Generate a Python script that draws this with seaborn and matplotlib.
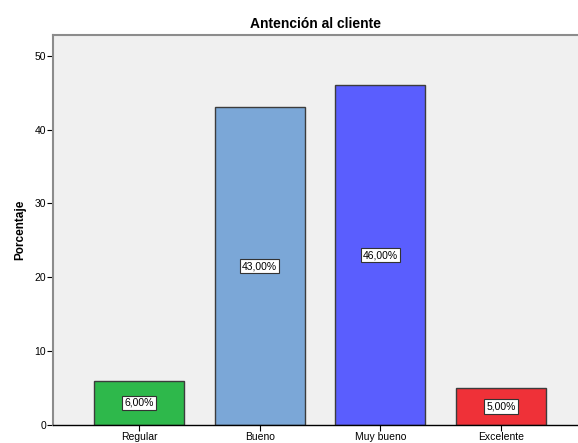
import matplotlib
matplotlib.use("Agg")
import matplotlib.pyplot as plt
import seaborn as sns
import pandas as pd

categorias = ["Regular", "Bueno", "Muy bueno", "Excelente"]
porcentajes = [6.0, 43.0, 46.0, 5.0]
colores = ["#2EB84B", "#7BA7D7", "#5A5EFE", "#EF3138"]
ticks_y = [0, 10, 20, 30, 40, 50]

df = pd.DataFrame({"categoria": categorias, "porcentaje": porcentajes})

sns.set_style("white")
plt.rcParams["font.family"] = ["Liberation Sans", "DejaVu Sans"]
plt.rcParams["text.color"] = "black"
plt.rcParams["axes.labelcolor"] = "black"
plt.rcParams["xtick.color"] = "black"
plt.rcParams["ytick.color"] = "black"

fig = plt.figure(figsize=(5.78, 4.43), dpi=100)
ax = fig.add_axes([53 / 578, 18 / 443, 1 - 53 / 578, (425 - 35) / 443])
ax.set_facecolor("#F0F0F0")

sns.barplot(data=df, x="categoria", y="porcentaje", hue="categoria",
            palette=colores, order=categorias, width=0.746, saturation=1,
            edgecolor="#3C3C3C", linewidth=1.0, legend=False, ax=ax)

for i, v in enumerate(porcentajes):
    ax.text(i, v / 2, f"{v:.2f}".replace(".", ",") + "%",
            ha="center", va="center", fontsize=7.5, color="black",
            bbox=dict(boxstyle="square,pad=0.2", facecolor="white",
                      edgecolor="#333333", linewidth=0.8))

ax.set_xlim(-0.713, 3.64)
ax.set_ylim(0, 52.8)
ax.set_yticks(ticks_y)
ax.set_yticklabels([str(t) for t in ticks_y])
ax.tick_params(axis="both", labelsize=7.5, length=4, width=0.8,
               color="black", labelcolor="black", direction="out", pad=1)
ax.tick_params(axis="y", left=True)
ax.tick_params(axis="x", bottom=True)

ax.set_xlabel("")
ax.set_ylabel("Porcentaje", fontsize=8.5, fontweight="bold", labelpad=6,
              color="black")
ax.set_title("Antención al cliente", fontsize=10, fontweight="bold", pad=5,
             color="black")

ax.spines["right"].set_visible(False)
ax.spines["top"].set_color("#8C8C8C")
ax.spines["top"].set_linewidth(1.5)
ax.spines["left"].set_color("#8C8C8C")
ax.spines["left"].set_linewidth(1.5)
ax.spines["bottom"].set_color("black")
ax.spines["bottom"].set_linewidth(1.0)

fig.savefig("out.png", dpi=100, facecolor="white")
